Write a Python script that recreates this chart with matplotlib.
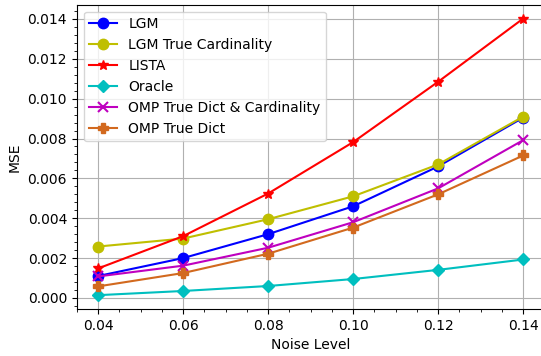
import matplotlib
matplotlib.use('Agg')
import matplotlib.pyplot as plt
from matplotlib.ticker import AutoMinorLocator

noise = [0.04, 0.06, 0.08, 0.10, 0.12, 0.14]

lgm = [0.00110, 0.00200, 0.00320, 0.00460, 0.00660, 0.00905]
lgm_card = [0.00258, 0.00298, 0.00395, 0.00510, 0.00670, 0.00910]
lista = [0.00148, 0.00310, 0.00524, 0.00782, 0.01085, 0.01402]
oracle = [0.00014, 0.00035, 0.00060, 0.00095, 0.00141, 0.00193]
omp_dict_card = [0.00108, 0.00162, 0.00252, 0.00380, 0.00550, 0.00792]
omp_dict = [0.00058, 0.00125, 0.00222, 0.00353, 0.00520, 0.00715]

fig = plt.figure(figsize=(5.41, 3.56), dpi=100)
ax = fig.add_axes([76.8 / 541, 1 - 309 / 356, (544.5 - 76.8) / 541, (309 - 4.7) / 356])

ms = 7.5
ax.plot(noise, lgm, '-o', color='b', lw=1.5, ms=ms, label='LGM')
ax.plot(noise, lgm_card, '-o', color='y', lw=1.5, ms=ms, label='LGM True Cardinality')
ax.plot(noise, lista, '-*', color='r', lw=1.5, ms=ms, label='LISTA')
ax.plot(noise, oracle, '-D', color='c', lw=1.5, ms=ms - 1, label='Oracle')
ax.plot(noise, omp_dict_card, '-x', color='m', lw=1.5, ms=ms, mew=1.5,
        label='OMP True Dict & Cardinality')
ax.plot(noise, omp_dict, '-P', color='chocolate', lw=1.5, ms=ms, label='OMP True Dict')

ax.set_xticks(noise)
ax.set_xlabel('Noise Level')
ax.set_ylabel('MSE')
ax.xaxis.set_minor_locator(AutoMinorLocator(4))
ax.yaxis.set_minor_locator(AutoMinorLocator(5))
ax.grid(True, which='major')
ax.legend(loc='upper left')

fig.savefig('out.png', dpi=100)
